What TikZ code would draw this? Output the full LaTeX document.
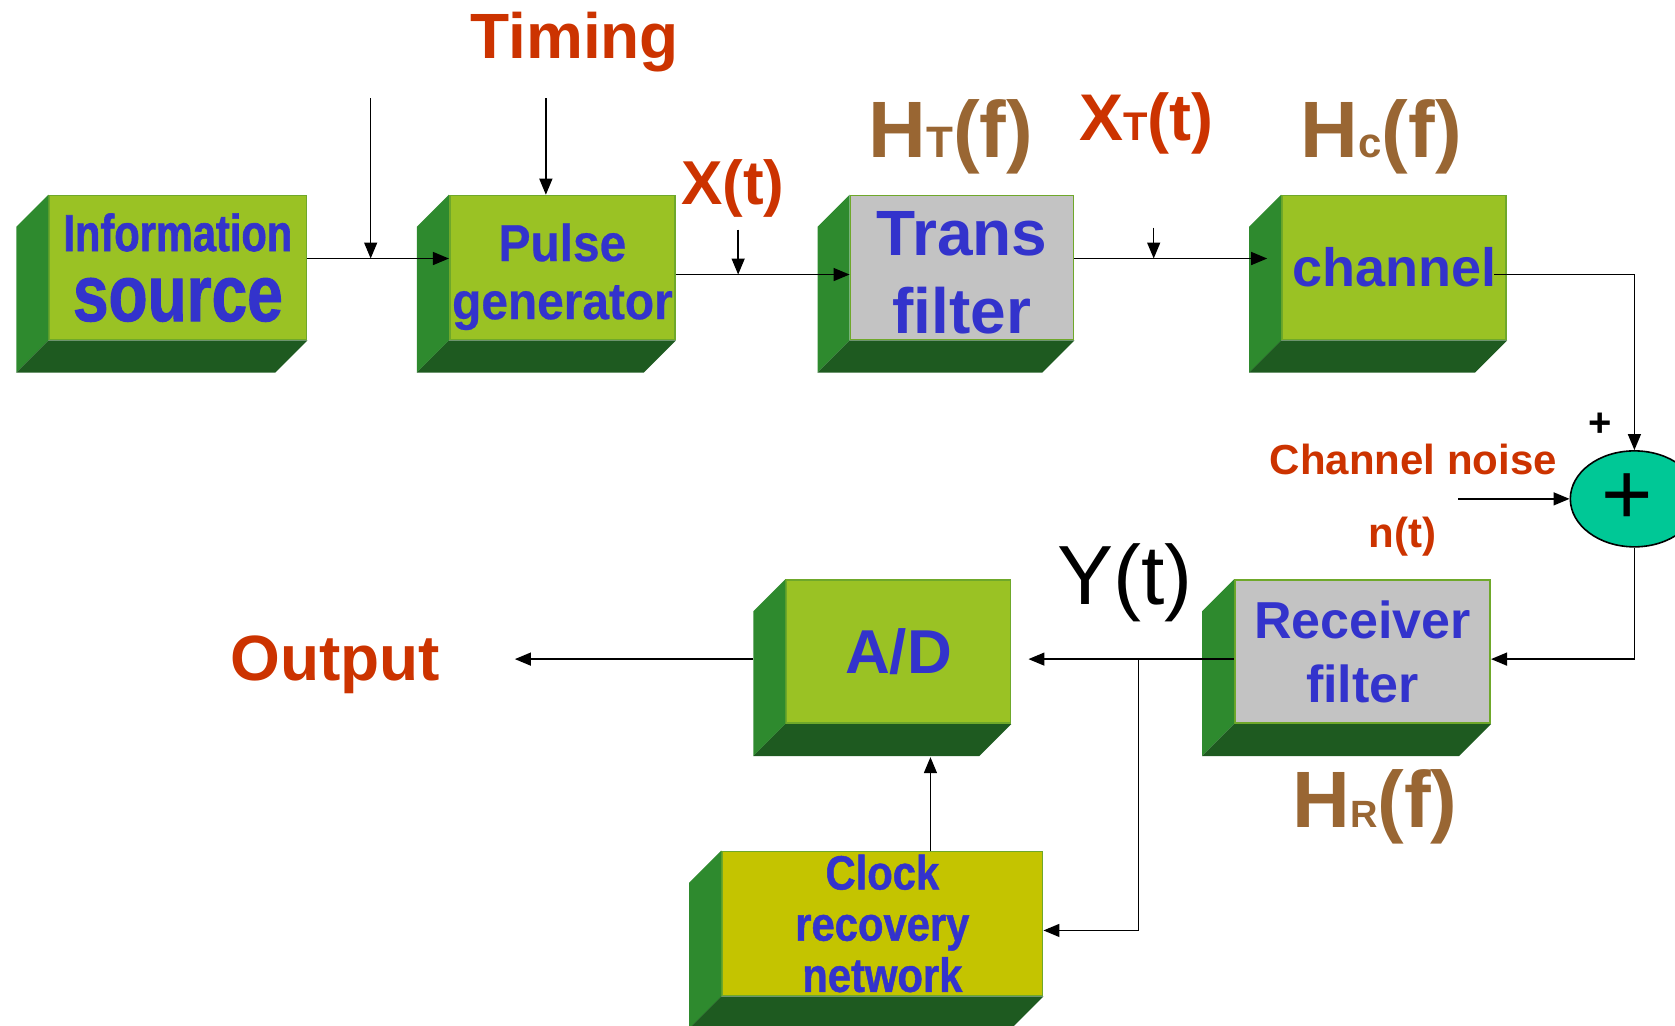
\documentclass[tikz,border=0pt]{standalone}
\usepackage{fontspec}
\setmainfont{Liberation Sans}
\newfontfamily\srcfont[FakeStretch=0.8,FakeBold=1.2]{Liberation Sans Bold}
\newfontfamily\pulsefont[FakeStretch=0.92,FakeBold=0.5]{Liberation Sans Bold}
\newfontfamily\clockfont[FakeStretch=0.87,FakeBold=1]{Liberation Sans Bold}
\usetikzlibrary{arrows.meta,shapes.geometric}
\definecolor{FaceGreen} {HTML}{9AC224}
\definecolor{EdgeGreen} {HTML}{6FA82A}
\definecolor{SideGreen} {HTML}{2E8A2E}
\definecolor{BaseGreen} {HTML}{1E5A20}
\definecolor{FilterGrey}{HTML}{C3C3C3}
\definecolor{ClockOlive}{HTML}{C4C400}
\definecolor{SumTeal}   {HTML}{00C896}
\definecolor{LabelRed}  {HTML}{CC3300}
\definecolor{LabelBrown}{HTML}{996633}
\definecolor{TextBlue}  {HTML}{3333CC}

\newcommand\fsz[2]{\fontsize{#1}{#2}\selectfont}
% side and bottom faces of a block
\newcommand\slab[1]{%
  \fill[SideGreen] (#1.north west) -- ++(-30,30) -- ([shift={(-30,30)}]#1.south west) -- (#1.south west) -- cycle;
  \fill[BaseGreen] (#1.south west) -- ([shift={(-30,30)}]#1.south west) -- ([shift={(-30,30)}]#1.south east) -- (#1.south east) -- cycle;
}

\begin{document}
\begin{tikzpicture}[x=0.5342pt, y=-0.5342pt,
  block/.style={rectangle, draw=EdgeGreen, line width=0.8pt, fill=FaceGreen,
    text=TextBlue, align=center, inner sep=0pt, minimum height=72.1pt},
  lbl/.style={text=LabelRed, inner sep=0pt},
  tf/.style={text=LabelBrown, inner sep=0pt, font=\bfseries\fsz{40}{44}},
  sig/.style={-{Triangle[length=8pt,width=6.5pt]}, line width=0.7pt, black}]

  \useasboundingbox (0,0) rectangle (1568,960);
  \clip (0,0) rectangle (1568,960);

  % ===== BLOCKS =====
  \node[block, minimum width=128.7pt, font=\srcfont\fsz{40}{35}] (src) at (166.5,250.5)
        {{\fsz{26}{35}Information}\\source};
  \node[block, minimum width=112.7pt, font=\pulsefont\fsz{26}{29}] (pulse) at (526.5,250.5)
        {\rule{0pt}{28pt}Pulse\\generator};
  \node[block, fill=FilterGrey, minimum width=111.6pt, font=\bfseries\fsz{32}{39}] (trans) at (900.5,250.5)
        {\rule{0pt}{27pt}Trans\\filter};
  \node[block, minimum width=112.2pt, font=\bfseries\fsz{27}{30}] (chan) at (1305,250.5)
        {channel};
  \node[block, fill=FilterGrey, minimum width=127.7pt, minimum height=71.6pt,
        font=\bfseries\fsz{26}{32}] (recv) at (1275.5,610)
        {Receiver\\filter};
  \node[block, minimum width=112.2pt, minimum height=71.6pt, font=\bfseries\fsz{31}{35}] (ad) at (841,610)
        {A/D};
  \node[block, fill=ClockOlive, minimum width=160.3pt, font=\clockfont\fsz{24}{25.6}] (clock) at (826,864.5)
        {Clock\\recovery\\network};
  \foreach \b in {src,pulse,trans,chan,recv,ad,clock}{\slab{\b}}

  % adder
  \node[ellipse, draw=black, line width=0.8pt, fill=SumTeal, minimum width=64.1pt,
        minimum height=48pt, inner sep=0pt, font=\fsz{44}{44}] (sum) at (1530,467)
        {\kern-7pt+};

  % ===== LABELS =====
  \node[lbl, font=\bfseries\fsz{32}{36}] (timing) at (538,39) {Timing};
  \node[lbl, font=\bfseries\fsz{31}{36}] (xt) at (686,176) {X(t)};
  \node[tf] (ht) at (890,128) {H{\fsz{22}{22}T}(f)};
  \node[lbl, font=\bfseries\fsz{33}{36}] (xtt) at (1073,116) {X{\fsz{20}{20}T}(t)};
  \node[tf] (hc) at (1293,128) {H{\fsz{21}{21}c}(f)};
  \node[lbl, font=\bfseries\fsz{21}{24}] (noiselbl) at (1323,430) {Channel noise};
  \node[lbl, font=\bfseries\fsz{21}{24}] (nt) at (1313,502) {n(t)};
  \node[inner sep=0pt, font=\bfseries\fsz{20}{20}] (plus) at (1498,398) {+};
  \node[inner sep=0pt, font=\fsz{42}{46}] (yt) at (1053,546) {Y(t)};
  \node[tf] (hr) at (1287,755) {H{\fsz{19}{19}R}(f)};
  \node[lbl, font=\bfseries\fsz{32}{36}] (output) at (314,622) {Output};

  % ===== CONNECTORS =====
  \coordinate (tA) at (347,92);
  \coordinate (jA) at (347,242);
  \coordinate (tim) at (511,92);
  \coordinate (xin) at (691,215);
  \coordinate (jX) at (691,257);
  \coordinate (xtin) at (1080,213);
  \coordinate (jXT) at (1080,242);
  \coordinate (noise) at (1365,467);
  \coordinate (jY) at (1066,617);
  \coordinate (out) at (482,617);

  \draw[sig] ([shift={(0,-8.5)}]src.east) -- ([shift={(0,-8.5)}]pulse.west);
  \draw[sig] (tA) -- (jA);
  \draw[sig] (tim) -- (tim |- pulse.north);
  \draw[sig] ([shift={(0,6.5)}]pulse.east) -- ([shift={(0,6.5)}]trans.west);
  \draw[sig] (xin) -- (jX);
  \draw[sig] ([shift={(0,-8.5)}]trans.east) -- ([shift={(-13,-8.5)}]chan.west);
  \draw[sig] (xtin) -- (jXT);
  \draw[sig] ([shift={(-12,6.5)}]chan.east) -| (sum.north);
  \draw[sig] (noise) -- (sum.west);
  \draw[sig] (sum.south) |- ([shift={(0,7)}]recv.east);
  \draw[sig] ([shift={(0,7)}]recv.west) -- ([shift={(16,7)}]ad.east);
  \draw[sig] (jY) |- ([shift={(0,6.5)}]clock.east);
  \draw[sig] ([shift={(45,0)}]clock.north) -- ([shift={(30,31)}]ad.south);
  \draw[sig] ([shift={(-30,7)}]ad.west) -- (out);

\end{tikzpicture}
\end{document}
